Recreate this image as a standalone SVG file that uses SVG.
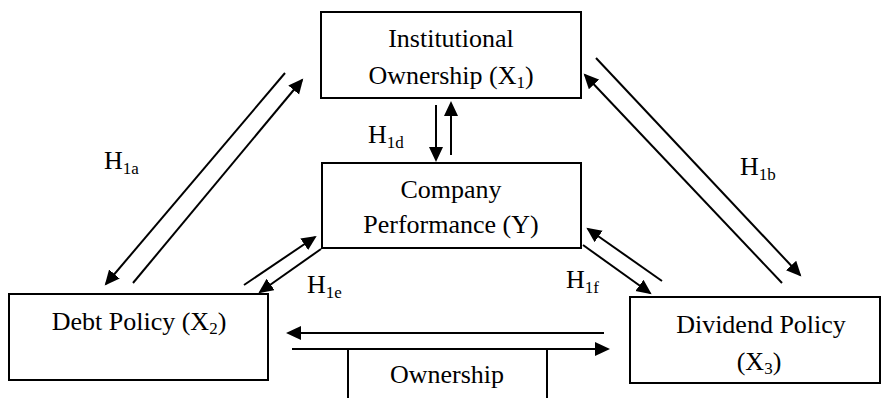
<svg xmlns="http://www.w3.org/2000/svg" width="881" height="398" viewBox="0 0 881 398" font-family="'Liberation Serif', 'Times New Roman', Times, 'DejaVu Serif', serif">
<defs>
<marker id="ah" markerUnits="userSpaceOnUse" markerWidth="16" markerHeight="15" refX="13" refY="7" orient="auto">
<path d="M0,0 L15,7 L0,14 z" fill="#000"/>
</marker>
<style>
.box{fill:#fff;stroke:#000;stroke-width:2}
.t{font-family:'Liberation Serif','Times New Roman',Times,'DejaVu Serif',serif;font-size:26px;fill:#000}
.s{font-size:17px}
.c{stroke:#000;stroke-width:2;fill:none}
.a{marker-end:url(#ah)}
</style>
</defs>
<rect width="881" height="398" fill="#fff"/>
<g id="connectors">
<line class="c a" x1="285" y1="73" x2="106" y2="284"/>
<line class="c a" x1="133" y1="283" x2="302" y2="80"/>
<line class="c a" x1="596" y1="58" x2="800" y2="275"/>
<line class="c a" x1="782" y1="283" x2="585" y2="75"/>
<line class="c a" x1="436" y1="105" x2="436" y2="160"/>
<line class="c a" x1="451" y1="155" x2="451" y2="103"/>
<line class="c a" x1="244" y1="285" x2="315" y2="237"/>
<line class="c a" x1="321" y1="249" x2="260" y2="292"/>
<line class="c a" x1="583" y1="245" x2="650" y2="293"/>
<line class="c a" x1="662" y1="281" x2="588" y2="229"/>
<line class="c a" x1="604" y1="333" x2="288" y2="333"/>
<line class="c a" x1="292" y1="349" x2="608" y2="349"/>
</g>
<g id="labels">
<text class="t" x="104" y="169">H<tspan class="s" dy="5">1a</tspan></text>
<text class="t" x="740" y="175">H<tspan class="s" dy="5">1b</tspan></text>
<text class="t" x="368" y="143">H<tspan class="s" dy="5">1d</tspan></text>
<text class="t" x="307" y="293">H<tspan class="s" dy="5">1e</tspan></text>
<text class="t" x="566" y="288">H<tspan class="s" dy="5">1f</tspan></text>
</g>
<g id="institutional">
<rect class="box" x="321" y="12" width="260" height="86"/>
<text class="t" x="451" y="47" text-anchor="middle">Institutional</text>
<text class="t" x="451" y="84" text-anchor="middle">Ownership (X<tspan class="s" dy="4">1</tspan><tspan dy="-4">)</tspan></text>
</g>
<g id="performance">
<rect class="box" x="322" y="163" width="259" height="85"/>
<text class="t" x="451" y="198" text-anchor="middle">Company</text>
<text class="t" x="451" y="233" text-anchor="middle">Performance (Y)</text>
</g>
<g id="debt">
<rect class="box" x="9" y="294" width="259" height="86"/>
<text class="t" x="139" y="330" text-anchor="middle">Debt Policy (X<tspan class="s" dy="4">2</tspan><tspan dy="-4">)</tspan></text>
</g>
<g id="dividend">
<rect class="box" x="630" y="297" width="250" height="86"/>
<text class="t" x="761" y="333" text-anchor="middle">Dividend Policy</text>
<text class="t" x="759" y="370" text-anchor="middle">(X<tspan class="s" dy="4">3</tspan><tspan dy="-4">)</tspan></text>
</g>
<g id="ownership">
<rect class="box" x="348" y="349" width="199" height="70"/>
<text class="t" x="447" y="383" text-anchor="middle">Ownership</text>
</g>
</svg>
